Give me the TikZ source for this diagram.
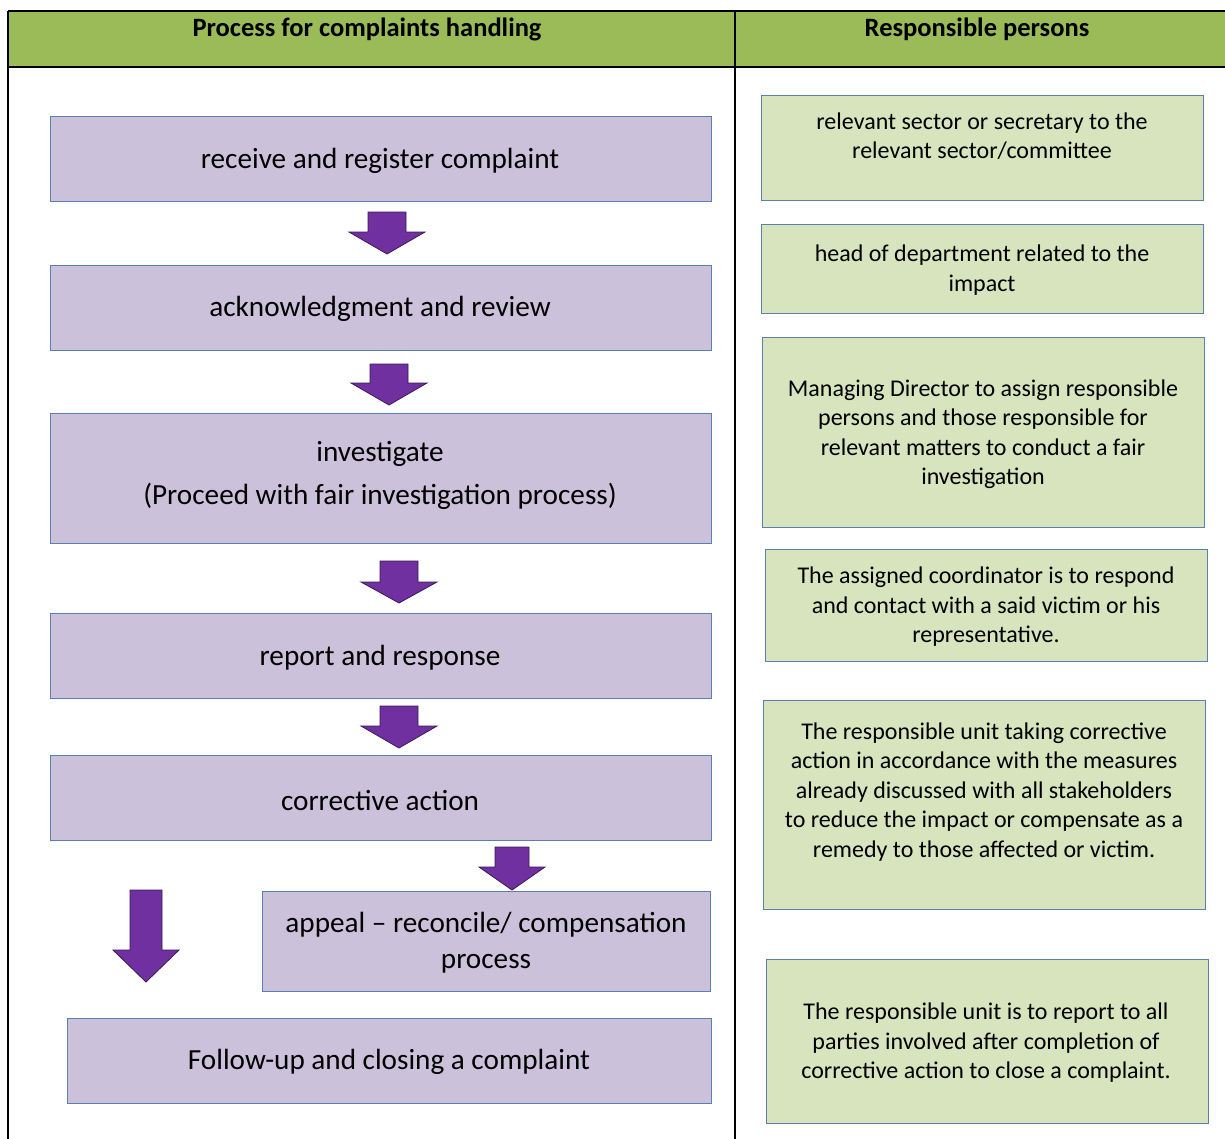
\documentclass[tikz,border=0pt]{standalone}
\usepackage{fontspec}
\setmainfont{Carlito}
\begin{document}
\begin{tikzpicture}[x=1pt,y=-1pt,
  pbox/.style={draw=bordblue,line width=0.9pt,fill=purlight,inner sep=0pt},
  gbox/.style={draw=bordblue,line width=0.9pt,fill=grnlight,inner sep=0pt},
  ptext/.style={font=\fontsize{29.2}{36}\selectfont,align=center,text=black,inner sep=0pt},
  gtext/.style={font=\fontsize{24}{29.5}\selectfont,align=center,text=black,inner sep=0pt},
  htext/.style={font=\fontsize{26.5}{30}\selectfont\bfseries,text=black,inner sep=0pt},
  barrow/.style={fill=arrpurple,draw=arrdark,line width=0.8pt,line join=miter},
  tabline/.style={draw=black,line width=2pt}]
\definecolor{purlight}{HTML}{CCC1DA}
\definecolor{grnlight}{HTML}{D7E4BD}
\definecolor{hdrgreen}{HTML}{9BBB59}
\definecolor{bordblue}{HTML}{5A7FB0}
\definecolor{arrpurple}{HTML}{7030A0}
\definecolor{arrdark}{HTML}{3A1A55}
\useasboundingbox (0,0) rectangle (1225,1138);
\fill[white] (0,0) rectangle (1225,1138);
% header
\fill[hdrgreen] (8,11) rectangle (1226,67);
\draw[tabline] (8,11) -- (1226,11);
\draw[tabline] (8,67) -- (1226,67);
\draw[tabline] (8,11) -- (8,1139);
\draw[tabline] (735,11) -- (735,1139);
\node[htext] (h1) at (367,29) {Process for complaints handling};
\node[htext] (h2) at (977,29) {Responsible persons};
% left boxes
\newcommand{\lbox}[6]{\node[pbox,minimum width=#3-#2,minimum height=#5-#4] (#1) at ({(#2+#3)/2},{(#4+#5)/2}) {};}
\lbox{b1}{50}{711}{116}{201}{}
\lbox{b2}{50}{711}{265}{350}{}
\lbox{b3}{50}{711}{413}{543}{}
\lbox{b4}{50}{711}{613}{698}{}
\lbox{b5}{50}{711}{755}{840}{}
\lbox{b6}{262}{710}{891}{991}{}
\lbox{b7}{67}{711}{1018}{1103}{}
\node[ptext] (t1) at (380,161) {receive and register complaint};
\node[ptext] (t2) at (380,309) {acknowledgment and review};
\node[ptext] (t3a) at (380,454) {investigate};
\node[ptext] (t3b) at (380,496) {(Proceed with fair investigation process)};
\node[ptext] (t4) at (380,658) {report and response};
\node[ptext] (t5) at (380,800) {corrective action};
\node[ptext] (t6) at (486,943) {appeal -- reconcile/ compensation\\process};
\node[ptext] (t7) at (389,1062) {Follow-up and closing a complaint};
% block arrows
\newcommand{\blkarrow}[6]{\draw[barrow] (#1-#5,#2) -- (#1+#5,#2) -- (#1+#5,#3) -- (#1+#6,#3) -- (#1,#4) -- (#1-#6,#3) -- (#1-#5,#3) -- cycle;}
\blkarrow{387}{212}{232}{254}{19}{38}
\blkarrow{389}{364}{383}{405}{19}{38}
\blkarrow{399}{561}{582}{603}{19}{38}
\blkarrow{399}{706}{726}{748}{19}{38}
\blkarrow{512}{847}{867}{890}{17}{33}
\blkarrow{146}{890}{950}{982}{16}{33}
% right boxes
\newcommand{\rbox}[5]{\node[gbox,minimum width=#3-#2,minimum height=#5-#4] (#1) at ({(#2+#3)/2},{(#4+#5)/2}) {};}
\rbox{r1}{761}{1203}{95}{200}
\rbox{r2}{761}{1203}{224}{313}
\rbox{r3}{762}{1204}{337}{527}
\rbox{r4}{765}{1207}{549}{661}
\rbox{r5}{763}{1205}{700}{909}
\rbox{r6}{766}{1208}{959}{1123}
\node[gtext] (g1) at (982,136) {relevant sector or secretary to the\\relevant sector/committee};
\node[gtext] (g2) at (982,270) {head of department related to the\\impact};
\node[gtext] (g3) at (983,434) {Managing Director to assign responsible\\persons and those responsible for\\relevant matters to conduct a fair\\investigation};
\node[gtext] (g4) at (986,607) {The assigned coordinator is to respond\\and contact with a said victim or his\\representative.};
\node[gtext] (g5) at (984,792) {The responsible unit taking corrective\\action in accordance with the measures\\already discussed with all stakeholders\\to reduce the impact or compensate as a\\remedy to those affected or victim.};
\node[gtext] (g6) at (986,1043) {The responsible unit is to report to all\\parties involved after completion of\\corrective action to close a complaint.};
\end{tikzpicture}
\end{document}
